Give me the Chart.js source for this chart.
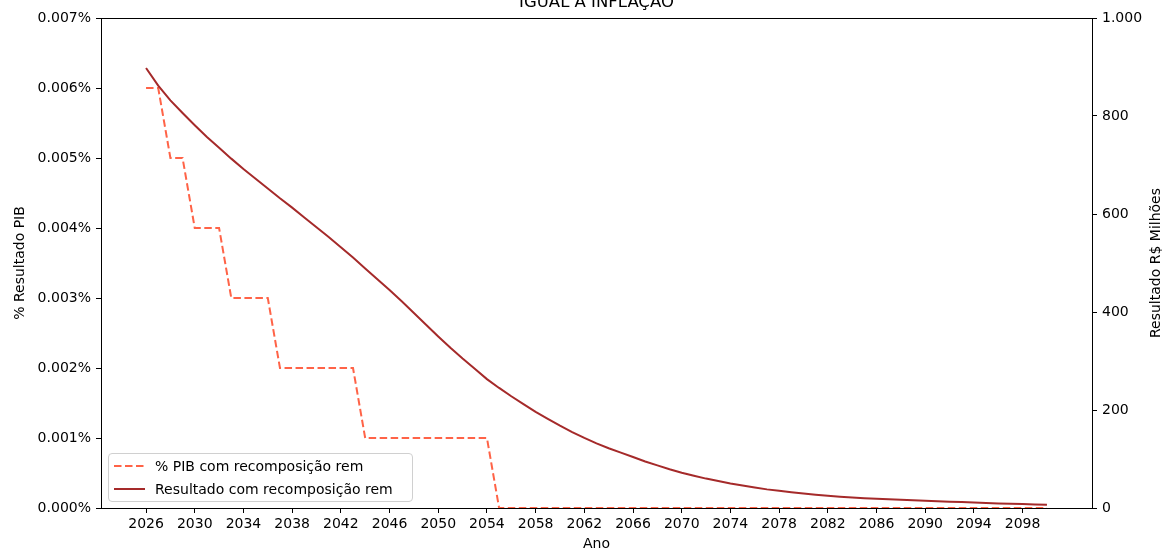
<!DOCTYPE html>
<html>
<head>
<meta charset="utf-8">
<script src="https://cdn.jsdelivr.net/npm/chart.js@4.4.1/dist/chart.umd.min.js"></script>
<style>
  body { margin: 0; background: #fff; }
  #caixa { position: relative; width: 1165px; height: 553px; overflow: hidden; }
  #legenda {
    position: absolute; left: 108px; top: 453px; width: 305px; height: 49px;
    box-sizing: border-box; border: 1px solid #d0d0d0; border-radius: 4px;
    background: rgba(255,255,255,0.8); font: 14px 'DejaVu Sans', sans-serif; color: #000;
  }
  #legenda .linha { height: 23px; line-height: 23px; white-space: nowrap; display: flex; align-items: center; }
  #legenda .linha:first-child { margin-top: 0.5px; }
  #legenda svg { margin-left: 5px; margin-right: 10px; }
</style>
</head>
<body>
<div id="caixa">
  <canvas id="grafico" width="1165" height="553"></canvas>
  <div id="legenda"></div>
</div>
<script>
// Dados
var titulo = 'IGUAL À INFLAÇÃO';
var tituloDireita = 'Resultado R$ Milhões';
var anos = [2026, 2027, 2028, 2029, 2030, 2031, 2032, 2033, 2034, 2035,
            2036, 2037, 2038, 2039, 2040, 2041, 2042, 2043, 2044, 2045,
            2046, 2047, 2048, 2049, 2050, 2051, 2052, 2053, 2054, 2055,
            2056, 2057, 2058, 2059, 2060, 2061, 2062, 2063, 2064, 2065,
            2066, 2067, 2068, 2069, 2070, 2071, 2072, 2073, 2074, 2075,
            2076, 2077, 2078, 2079, 2080, 2081, 2082, 2083, 2084, 2085,
            2086, 2087, 2088, 2089, 2090, 2091, 2092, 2093, 2094, 2095,
            2096, 2097, 2098, 2099, 2100];
// % do PIB
var pctPib = [0.006, 0.006, 0.005, 0.005, 0.004, 0.004, 0.004, 0.003, 0.003, 0.003,
              0.003, 0.002, 0.002, 0.002, 0.002, 0.002, 0.002, 0.002, 0.001, 0.001,
              0.001, 0.001, 0.001, 0.001, 0.001, 0.001, 0.001, 0.001, 0.001, 0,
              0, 0, 0, 0, 0, 0, 0, 0, 0, 0,
              0, 0, 0, 0, 0, 0, 0, 0, 0, 0,
              0, 0, 0, 0, 0, 0, 0, 0, 0, 0,
              0, 0, 0, 0, 0, 0, 0, 0, 0, 0,
              0, 0, 0, 0, 0];
// Resultado em R$ milhões
var resultado = [898, 862, 832, 806, 781, 757, 735, 713, 692, 672,
                 652, 632, 613, 593, 573, 553, 532, 511, 489, 467,
                 445, 422, 398, 374, 350, 327, 305, 284, 263, 245,
                 228, 212, 196, 182, 168, 155, 143, 132, 122, 113,
                 104, 95, 87, 79, 72, 66, 60, 55, 50, 46,
                 42, 38, 35, 32, 29.5, 27, 25, 23, 21.5, 20,
                 19, 18, 17, 16, 15, 14, 13, 12, 11, 10,
                 9.3, 8.6, 8, 7.3, 6.7];
var anosTicks = [2026, 2030, 2034, 2038, 2042, 2046, 2050, 2054, 2058, 2062,
                 2066, 2070, 2074, 2078, 2082, 2086, 2090, 2094, 2098];
var nomes = ['% PIB com recomposição rem', 'Resultado com recomposição rem'];
var cores = ['#ff6347', '#a52a2a'];
var tracos = [[7.5, 3.5], []];

Chart.defaults.font.family = "'DejaVu Sans', sans-serif";
Chart.defaults.font.size = 14;
Chart.defaults.color = '#000';

function milhar(v) {
  var s = String(Math.round(v));
  return s.replace(/\B(?=(\d{3})+(?!\d))/g, '.');
}

// Título, título do eixo direito e moldura dos eixos
var molduraPlugin = {
  id: 'moldura',
  afterDraw: function (chart) {
    var ctx = chart.ctx, a = chart.chartArea;
    ctx.save();
    ctx.strokeStyle = '#000';
    ctx.lineWidth = 1;
    ctx.strokeRect(Math.round(a.left) + 0.5, Math.round(a.top) + 0.5,
                   Math.round(a.right - a.left), Math.round(a.bottom - a.top));
    ctx.font = "16.5px 'DejaVu Sans'";
    ctx.fillStyle = '#000';
    ctx.textAlign = 'center';
    ctx.textBaseline = 'alphabetic';
    ctx.fillText(titulo, (a.left + a.right) / 2, 7);
    // eixo direito lido de baixo para cima, como no matplotlib
    ctx.font = "14px 'DejaVu Sans'";
    ctx.textBaseline = 'middle';
    ctx.translate(chart.width - 8.4, (a.top + a.bottom) / 2);
    ctx.rotate(-Math.PI / 2);
    ctx.fillText(tituloDireita, 0, 0);
    ctx.restore();
  }
};

var ctx = document.getElementById('grafico').getContext('2d');
var grafico = new Chart(ctx, {
  type: 'line',
  data: {
    datasets: [{
      label: nomes[0],
      data: anos.map(function (a, i) { return { x: a, y: pctPib[i] }; }),
      borderColor: cores[0],
      borderDash: tracos[0],
      borderWidth: 2,
      pointRadius: 0,
      tension: 0,
      yAxisID: 'y',
      order: 1
    }, {
      label: nomes[1],
      data: anos.map(function (a, i) { return { x: a, y: resultado[i] }; }),
      borderColor: cores[1],
      borderWidth: 2,
      pointRadius: 0,
      tension: 0,
      yAxisID: 'y1',
      order: 0
    }]
  },
  options: {
    responsive: false,
    animation: false,
    layout: { padding: { top: 18, left: 0, right: 0, bottom: 0 } },
    plugins: { legend: { display: false }, tooltip: { enabled: false } },
    scales: {
      x: {
        type: 'linear',
        min: 2022.3,
        max: 2103.7,
        afterBuildTicks: function (s) { s.ticks = anosTicks.map(function (v) { return { value: v }; }); },
        afterFit: function (s) { s.height = 45; },
        ticks: { autoSkip: false, maxRotation: 0, padding: 3, callback: function (v) { return String(v); } },
        grid: { drawOnChartArea: false, drawTicks: true, tickLength: 5, color: '#000' },
        border: { display: false },
        title: { display: true, text: 'Ano', font: { size: 14 }, padding: { top: 0, bottom: 0 } }
      },
      y: {
        position: 'left',
        min: 0,
        max: 0.007,
        afterFit: function (s) { s.width = 101; },
        ticks: { stepSize: 0.001, padding: 5, callback: function (v) { return v.toFixed(3) + '%'; } },
        grid: { drawOnChartArea: false, drawTicks: true, tickLength: 5, color: '#000' },
        border: { display: false },
        title: { display: true, text: '% Resultado PIB', font: { size: 14 }, padding: { top: 12, bottom: 0 } }
      },
      y1: {
        position: 'right',
        min: 0,
        max: 1000,
        afterFit: function (s) { s.width = 73; },
        ticks: { stepSize: 200, padding: 5, callback: function (v) { return milhar(v); } },
        grid: { drawOnChartArea: false, drawTicks: true, tickLength: 5, color: '#000' },
        border: { display: false },
        title: { display: false }
      }
    }
  },
  plugins: [molduraPlugin]
});

// Legenda dentro da área do gráfico
var legenda = document.getElementById('legenda');
nomes.forEach(function (nome, i) {
  var linha = document.createElement('div');
  linha.className = 'linha';
  var dash = tracos[i].length ? ' stroke-dasharray="' + tracos[i].join(',') + '"' : '';
  linha.innerHTML = '<svg width="31" height="4"><line x1="0" y1="2" x2="31" y2="2" stroke="' +
    cores[i] + '" stroke-width="2"' + dash + '/></svg><span>' + nome + '</span>';
  legenda.appendChild(linha);
});
</script>
</body>
</html>
